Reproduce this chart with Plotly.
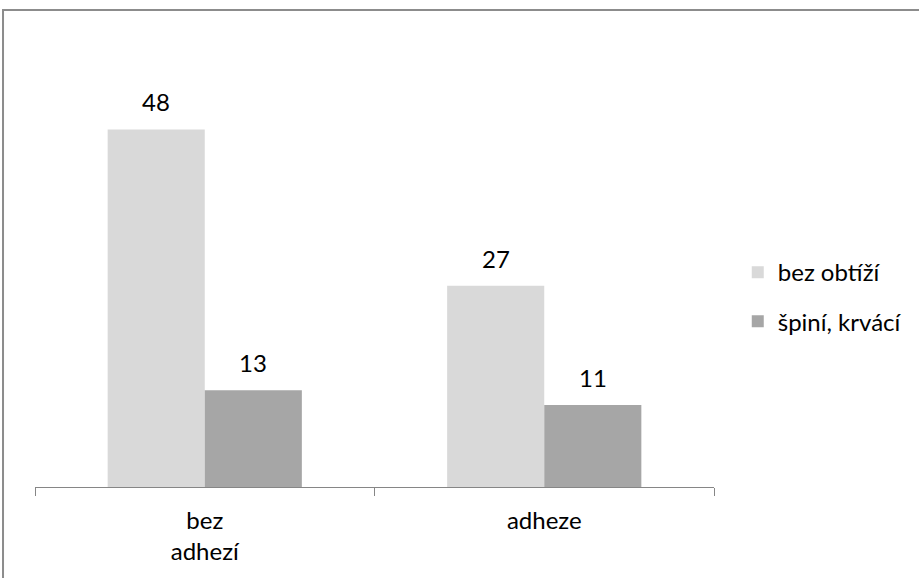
import plotly.graph_objects as go

categories = ["bez<br>adhezí", "adheze"]
series_names = ["bez obtíží", "špiní, krvácí"]
bez_obtizi = [48, 27]
spini_krvaci = [13, 11]
colors = ["#d9d9d9", "#a6a6a6"]

FONT = "Lato, 'Open Sans', sans-serif"
FS = 24

fig = go.Figure()
for i, (name, vals) in enumerate(zip(series_names, [bez_obtizi, spini_krvaci])):
    fig.add_trace(go.Bar(
        x=categories, y=vals, name=name, legendgroup=name,
        marker=dict(color=colors[i], line=dict(width=0)),
        offsetgroup=str(i),
    ))

# value labels above each bar
for i, vals in enumerate([bez_obtizi, spini_krvaci]):
    for j, v in enumerate(vals):
        fig.add_annotation(
            x=j + (-0.143 if i == 0 else 0.143), y=v, text=str(v),
            showarrow=False, yanchor="bottom", yshift=11,
            font=dict(size=FS, color="#000000", family=FONT),
        )

# outer frame of the chart
fig.add_shape(type="rect", xref="paper", yref="paper",
              x0=-0.0471, x1=1.5, y0=-0.4, y1=1.067,
              line=dict(color="#8c8c8c", width=2), fillcolor="rgba(0,0,0,0)",
              layer="below")

fig.update_layout(
    width=919, height=578,
    margin=dict(l=35, r=205, t=40, b=91, autoexpand=False),
    paper_bgcolor="white", plot_bgcolor="white",
    font=dict(family=FONT, size=FS, color="#000000"),
    barmode="group", bargap=0.428, bargroupgap=0,
    showlegend=True,
    legend=dict(x=1.035, xanchor="left", y=0.425, yanchor="middle",
                traceorder="grouped", tracegroupgap=15,
                font=dict(size=FS, family=FONT), bgcolor="rgba(0,0,0,0)"),
    xaxis=dict(type="category", showline=True, linecolor="#868686", linewidth=1,
               ticks="outside", tickson="boundaries", ticklen=8, tickcolor="#868686",
               showgrid=False, tickfont=dict(size=FS, family=FONT),
               ticklabelstandoff=12),
    yaxis=dict(range=[0, 60], visible=False, showgrid=False, zeroline=False),
)

fig.write_html("out.html")
